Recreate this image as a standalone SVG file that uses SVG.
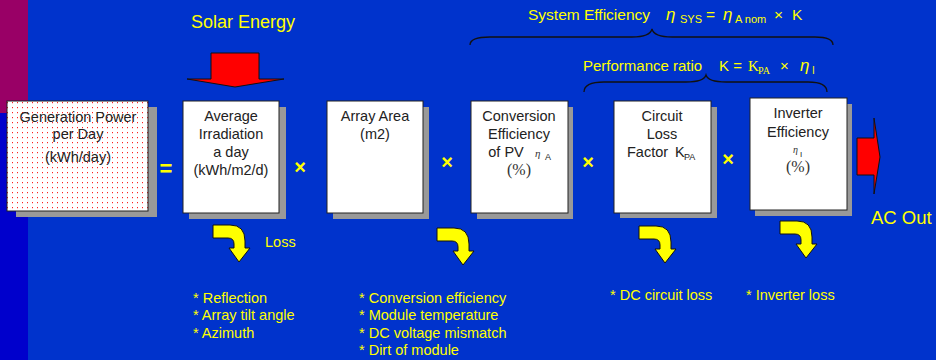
<svg xmlns="http://www.w3.org/2000/svg" width="936" height="360" viewBox="0 0 936 360">
<defs>
<pattern id="dots" width="5" height="5" patternUnits="userSpaceOnUse">
<rect width="5" height="5" fill="#ffffff"/>
<rect x="2" y="2" width="1" height="1.2" fill="#ff2020"/>
</pattern>
<style>
.box{fill:#ffffff;stroke:#222;stroke-width:1}
.sh{fill:#999999}
.bt{font-family:"Liberation Sans",Arial,sans-serif;font-size:14.5px;fill:#222;text-anchor:middle}
.sr{font-family:"Liberation Serif","Times New Roman",serif;fill:#333}
.y{font-family:"Liberation Sans",Arial,sans-serif;fill:#ffff00}
.yb{font-family:"Liberation Sans",Arial,sans-serif;fill:#ffff00;font-weight:bold;text-anchor:middle}
.loss{fill:#ffff00;stroke:#111;stroke-width:1}
.brace{fill:none;stroke:#111;stroke-width:1.3}
.red{fill:#ff0000;stroke:#111;stroke-width:1}
</style>
</defs>
<rect x="0" y="0" width="936" height="360" fill="#0033cc"/>
<rect x="0" y="0" width="28" height="360" fill="#0000cc"/>
<rect x="0" y="0" width="28" height="113" fill="#990066"/>

<g id="gen">
<rect class="sh" x="16" y="107" width="141" height="110"/>
<rect x="7" y="101" width="141" height="110" fill="url(#dots)" stroke="#222"/>
<text class="bt" x="78" y="122">Generation Power</text>
<text class="bt" x="78" y="139">per Day</text>
<text class="bt" x="78" y="162">(kWh/day)</text>
</g>

<g id="irradiation">
<rect class="sh" x="189" y="107" width="97" height="112"/>
<rect class="box" x="183" y="101" width="96" height="112"/>
<text class="bt" x="231" y="121">Average</text>
<text class="bt" x="231" y="139">Irradiation</text>
<text class="bt" x="231" y="157">a day</text>
<text class="bt" x="231" y="175">(kWh/m2/d)</text>
</g>

<g id="area">
<rect class="sh" x="333" y="107" width="96" height="112"/>
<rect class="box" x="327" y="101" width="96" height="112"/>
<text class="bt" x="375" y="121">Array Area</text>
<text class="bt" x="375" y="139">(m2)</text>
</g>

<g id="conversion">
<rect class="sh" x="477" y="107" width="96" height="112"/>
<rect class="box" x="471" y="101" width="97" height="112"/>
<text class="bt" x="519" y="121">Conversion</text>
<text class="bt" x="519" y="139">Efficiency</text>
<text class="bt" x="506" y="157">of PV</text>
<text class="sr" x="535" y="157" font-size="11" font-style="italic">η</text>
<text x="545" y="160" font-family="Liberation Sans,Arial,sans-serif" font-size="9" fill="#222">A</text>
<text class="sr" x="519" y="175" font-size="16" text-anchor="middle">(%)</text>
</g>

<g id="circuit">
<rect class="sh" x="620" y="107" width="97" height="111"/>
<rect class="box" x="614" y="101" width="97" height="112"/>
<text class="bt" x="662" y="121">Circuit</text>
<text class="bt" x="662" y="139">Loss</text>
<text class="bt" x="627" y="157" style="text-anchor:start">Factor</text>
<text class="bt" x="675" y="157" style="text-anchor:start">K</text>
<text x="684" y="160" font-family="Liberation Sans,Arial,sans-serif" font-size="9" fill="#222">PA</text>
</g>

<g id="inverter">
<rect class="sh" x="755" y="104" width="97" height="112"/>
<rect class="box" x="750" y="98" width="97" height="112"/>
<text class="bt" x="798" y="118">Inverter</text>
<text class="bt" x="798" y="137">Efficiency</text>
<text class="sr" x="793" y="153" font-size="10" font-style="italic">η</text>
<text x="800" y="157" font-family="Liberation Sans,Arial,sans-serif" font-size="8" fill="#222">I</text>
<text class="sr" x="798" y="172" font-size="16" text-anchor="middle">(%)</text>
</g>

<g id="operators">
<text class="yb" x="166" y="176" font-size="22">=</text>
<text class="yb" x="300" y="174" font-size="20">×</text>
<text class="yb" x="447" y="169" font-size="20">×</text>
<text class="yb" x="588" y="169" font-size="20">×</text>
<text class="yb" x="728" y="166" font-size="20">×</text>
</g>

<g id="labels">
<text class="y" x="191" y="28" font-size="18">Solar Energy</text>
<text class="y" x="871" y="224" font-size="18.5">AC Out</text>
<text class="y" x="528" y="20" font-size="15.5">System Efficiency</text>
<text class="y" x="666" y="20" font-size="17" font-style="italic" font-family="Liberation Serif,serif">η</text>
<text class="y" x="680" y="23" font-size="11">SYS</text>
<text class="y" x="706" y="20" font-size="15.5">=</text>
<text class="y" x="723" y="20" font-size="17" font-style="italic" font-family="Liberation Serif,serif">η</text>
<text class="y" x="735" y="23" font-size="11">A nom</text>
<text class="y" x="774" y="20" font-size="15.5">×</text>
<text class="y" x="792" y="20" font-size="15.5">K</text>
<text class="y" x="583" y="71" font-size="15">Performance ratio</text>
<text class="y" x="719" y="71" font-size="15">K =</text>
<text x="748" y="71" font-size="15" font-family="Liberation Serif,serif" fill="#ffff00">K</text>
<text x="758" y="74" font-size="10" font-family="Liberation Serif,serif" fill="#ffff00">PA</text>
<text class="y" x="780" y="71" font-size="15">×</text>
<text class="y" x="800" y="71" font-size="17" font-style="italic" font-family="Liberation Serif,serif">η</text>
<text class="y" x="812" y="74" font-size="10">I</text>
<text class="y" x="265" y="247" font-size="14.5">Loss</text>
<text class="y" x="193" y="303" font-size="14.5">* Reflection</text>
<text class="y" x="193" y="320" font-size="14.5">* Array tilt angle</text>
<text class="y" x="193" y="338" font-size="14.5">* Azimuth</text>
<text class="y" x="359" y="303" font-size="14.5">* Conversion efficiency</text>
<text class="y" x="359" y="320" font-size="14.5">* Module temperature</text>
<text class="y" x="359" y="338" font-size="14.5">* DC voltage mismatch</text>
<text class="y" x="359" y="355" font-size="14.5">* Dirt of module</text>
<text class="y" x="610" y="300" font-size="14.5">* DC circuit loss</text>
<text class="y" x="746" y="300" font-size="14.5">* Inverter loss</text>
</g>

<g id="connectors">
<path class="red" d="M211,53 H259 V79 L284,79 L235,87 L187,79 L211,79 Z"/>
<path class="red" d="M857,138 H874 V118 L880,157 L874,194 V175 H857 Z"/>
<path class="brace" d="M470,45 Q470,37 490,37 H632 Q650,37 652,29 Q654,37 672,37 H815 Q833,37 833,45"/>
<path class="brace" d="M584,92 Q584,82 604,82 H686 Q704,82 706,75 Q708,82 726,82 H808 Q827,82 827,92"/>
<path class="loss" transform="translate(213,225)" d="M0,0 H17 Q32,0 32,16 V23 H37 L26,37 L16,23 H21 V19 Q21,13 15,13 H0 Z"/>
<path class="loss" transform="translate(437,228)" d="M0,0 H17 Q32,0 32,16 V23 H37 L26,37 L16,23 H21 V19 Q21,13 15,13 H0 Z"/>
<path class="loss" transform="translate(639,226)" d="M0,0 H17 Q32,0 32,16 V23 H37 L26,37 L16,23 H21 V19 Q21,13 15,13 H0 Z"/>
<path class="loss" transform="translate(780,221)" d="M0,0 H17 Q32,0 32,16 V23 H37 L26,37 L16,23 H21 V19 Q21,13 15,13 H0 Z"/>
</g>
</svg>
